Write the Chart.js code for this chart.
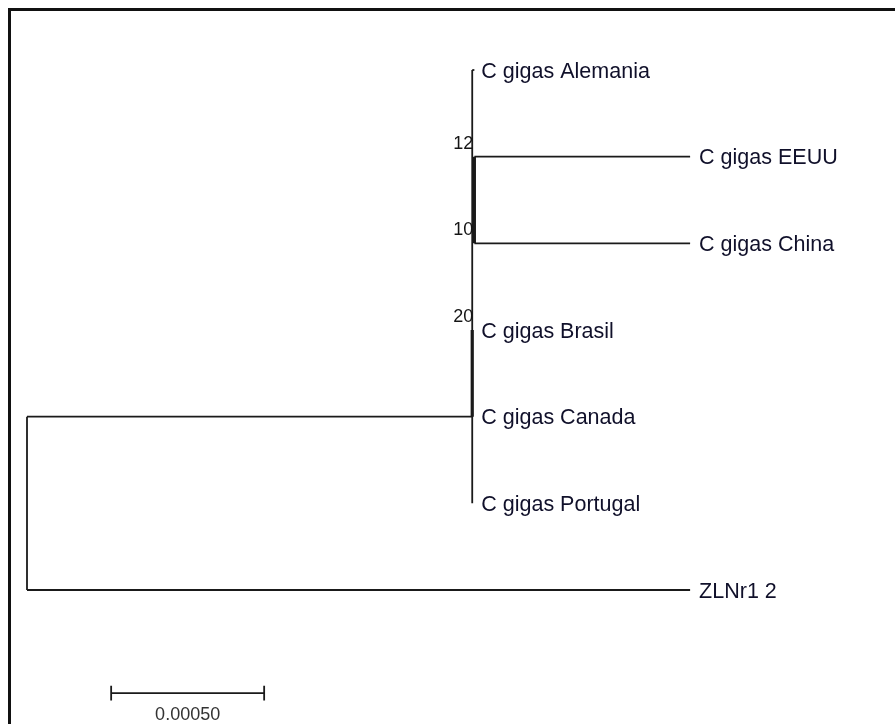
<!DOCTYPE html>
<html>
<head>
<meta charset="utf-8">
<script src="https://cdn.jsdelivr.net/npm/chart.js@4/dist/chart.umd.min.js"></script>
<style>
  html, body { margin: 0; padding: 0; background: #fff; }
  #wrap { position: relative; width: 895px; height: 724px; }
</style>
</head>
<body>
<div id="wrap"><canvas id="myChart"></canvas></div>
<script>
"use strict"

// taxa, in the order they are drawn top to bottom (row = index)
const taxa = ["C gigas Alemania", "C gigas EEUU", "C gigas China", "C gigas Brasil",
              "C gigas Canada", "C gigas Portugal", "ZLNr1 2"];
// distance from the root to each tip
const tipDepth = [0.001462, 0.002167, 0.002167, 0.001455, 0.001455, 0.001455, 0.002167];
// internal node each tip hangs from
const tipParent = [1, 2, 2, 3, 3, 1, 0];

// internal nodes: root, ingroup, (EEUU,China), (Brasil,Canada)
const nodeParent = [-1, 0, 1, 1];
const nodeDepth = [0, 0.001455, 0.001462, 0.001455];
const nodeRow = [5, 4, 1.5, 3.5];

// bootstrap values and the rows they sit on
const bootstrap = [12, 10, 20];
const bootstrapRow = [1, 2, 3];

const scaleBarLength = 0.0005;
const scaleBarLabel = "0.00050";
const scaleBarStart = 0.000275;
const scaleBarRow = 7.19;

document.addEventListener("DOMContentLoaded", init);

function seg(x1, y1, x2, y2, w){
    return {
        data: [{x: x1, y: y1}, {x: x2, y: y2}],
        showLine: true,
        borderColor: "#1a1a1a",
        borderWidth: w,
        pointRadius: 0,
        fill: false
    };
}

function buildDatasets(){
    const sets = [];
    // tip branches
    for (let i = 0; i < taxa.length; i++){
        sets.push(seg(nodeDepth[tipParent[i]], i, tipDepth[i], i, 1.8));
    }
    // internal nodes
    for (let n = 0; n < nodeParent.length; n++){
        const rows = [];
        for (let i = 0; i < taxa.length; i++) if (tipParent[i] === n) rows.push(i);
        for (let m = 0; m < nodeParent.length; m++) if (nodeParent[m] === n) rows.push(nodeRow[m]);
        const lo = Math.min(...rows), hi = Math.max(...rows);
        // zero-length clades show up heavier
        const w = n >= 2 ? 3.2 : 1.8;
        sets.push(seg(nodeDepth[n], lo, nodeDepth[n], hi, w));
        if (nodeParent[n] >= 0){
            sets.push(seg(nodeDepth[nodeParent[n]], nodeRow[n], nodeDepth[n], nodeRow[n], 1.8));
        }
    }
    // scale bar with end ticks
    const x2 = scaleBarStart + scaleBarLength;
    sets.push(seg(scaleBarStart, scaleBarRow, x2, scaleBarRow, 1.8));
    sets.push(seg(scaleBarStart, scaleBarRow - 0.085, scaleBarStart, scaleBarRow + 0.085, 1.8));
    sets.push(seg(x2, scaleBarRow - 0.085, x2, scaleBarRow + 0.085, 1.8));
    return sets;
}

const labelPlugin = {
    id: "treeLabels",
    beforeDraw(chart){
        const ctx = chart.ctx;
        ctx.save();
        ctx.strokeStyle = "#111";
        ctx.lineWidth = 3;
        ctx.beginPath();
        ctx.moveTo(9.5, chart.height);
        ctx.lineTo(9.5, 9.5);
        ctx.lineTo(chart.width, 9.5);
        ctx.stroke();
        ctx.restore();
    },
    afterDatasetsDraw(chart){
        const ctx = chart.ctx;
        const xs = chart.scales.x, ys = chart.scales.y;
        ctx.save();
        ctx.fillStyle = "#10102a";
        ctx.font = '21.5px Arial, "Liberation Sans", sans-serif';
        ctx.textAlign = "left";
        ctx.textBaseline = "alphabetic";
        for (let i = 0; i < taxa.length; i++){
            const dx = i === 0 ? 7 : 9;
            ctx.fillText(taxa[i], xs.getPixelForValue(tipDepth[i]) + dx, ys.getPixelForValue(i) + 7.5);
        }
        ctx.font = '18px Arial, "Liberation Sans", sans-serif';
        ctx.fillStyle = "#151515";
        ctx.textAlign = "right";
        for (let k = 0; k < bootstrap.length; k++){
            ctx.fillText(String(bootstrap[k]), xs.getPixelForValue(nodeDepth[1]) + 1,
                         ys.getPixelForValue(bootstrapRow[k]) - 8);
        }
        ctx.textAlign = "center";
        ctx.fillStyle = "#333";
        ctx.fillText(scaleBarLabel, xs.getPixelForValue(scaleBarStart + scaleBarLength / 2),
                     ys.getPixelForValue(scaleBarRow) + 27);
        ctx.restore();
    }
};

function init(){
    const ctx = document.getElementById("myChart").getContext("2d");
    new Chart(ctx, {
        type: "scatter",
        data: { datasets: buildDatasets() },
        plugins: [labelPlugin],
        options: {
            responsive: true,
            maintainAspectRatio: false,
            animation: false,
            events: [],
            layout: { padding: 0 },
            plugins: {
                legend: { display: false },
                tooltip: { enabled: false }
            },
            scales: {
                x: { type: "linear", display: false, min: -0.00008824, max: 0.0028366 },
                y: { type: "linear", display: false, reverse: true, min: -0.8077, max: 7.5459 }
            }
        }
    });
}
</script>
</body>
</html>
